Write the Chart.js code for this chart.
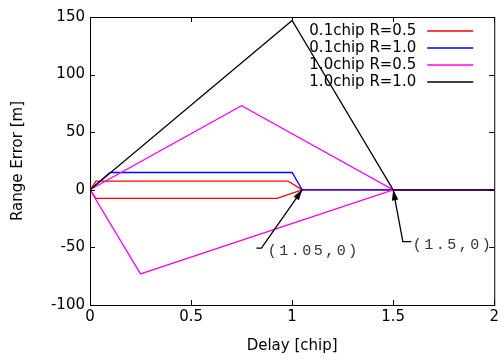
<!DOCTYPE html>
<html>
<head>
<meta charset="utf-8">
<script src="https://cdn.jsdelivr.net/npm/chart.js@4/dist/chart.umd.min.js"></script>
<style>
  html, body { margin: 0; padding: 0; background: #fff; }
  #wrap { width: 502px; height: 360px; }
</style>
</head>
<body>
<div id="wrap"><canvas id="c" width="502" height="360"></canvas></div>
<script>
// series names and colours
const seriesNames = ['0.1chip R=0.5', '0.1chip R=1.0', '1.0chip R=0.5', '1.0chip R=1.0'];
const seriesColors = ['#ff0000', '#0000ff', '#ff00ff', '#000000'];

// envelope of each series (delay [chip], error [m])
const redX = [2, 1.05, 0.98, 0.03, 0, 0.03, 0.925, 1.05];
const redY = [0, 0, 7.5, 7.5, 0, -7.5, -7.5, 0];
const blueX = [2, 1.05, 1.0, 0.1, 0];
const blueY = [0, 0, 15, 15, 0];
const magentaX = [2, 1.5, 0.75, 0, 0.25, 1.5];
const magentaY = [0, 0, 73, 0, -73, 0];
const blackX = [0, 1.0, 1.5, 2];
const blackY = [0, 147, 0, 0];

// axis ticks
const xTicks = [0, 0.5, 1, 1.5, 2];
const yTicks = [-100, -50, 0, 50, 100, 150];

// arrow labels: text, elbow start, arrow start, arrow tip, text anchor
const noteTexts = ['(1.05,0)', '(1.5,0)'];
const noteElbow = [[0.823, -50.6], [1.59, -45]];
const noteFrom = [[0.848, -50.6], [1.548, -45]];
const noteTip = [[1.05, 0], [1.5, 0]];
const noteAt = [[0.88, -53], [1.597, -48]];

const FONT = 'DejaVu Sans';

function pts(xs, ys) { return xs.map((x, i) => ({ x: x, y: ys[i] })); }
const allX = [redX, blueX, magentaX, blackX];
const allY = [redY, blueY, magentaY, blackY];

const datasets = seriesNames.map((name, i) => ({
  label: name,
  data: pts(allX[i], allY[i]),
  borderColor: seriesColors[i],
  backgroundColor: seriesColors[i],
  borderWidth: 1.3,
  borderJoinStyle: 'miter',
  pointRadius: 0,
  showLine: true,
  fill: false,
  tension: 0,
  order: seriesNames.length - 1 - i   // later series drawn on top, like gnuplot
}));

// frame, inward ticks, key and arrows, gnuplot style
const gnuplotDecor = {
  id: 'gnuplotDecor',
  afterDatasetsDraw(chart) {
    const { ctx, chartArea: a, scales } = chart;
    const sx = scales.x, sy = scales.y;
    ctx.save();
    ctx.strokeStyle = '#000';
    ctx.lineWidth = 1;
    ctx.strokeRect(a.left + 0.5, a.top + 0.5, a.right - a.left, a.bottom - a.top);

    const tl = 5;
    ctx.beginPath();
    xTicks.forEach(v => {
      const px = Math.round(sx.getPixelForValue(v)) + 0.5;
      ctx.moveTo(px, a.bottom); ctx.lineTo(px, a.bottom - tl);
      ctx.moveTo(px, a.top); ctx.lineTo(px, a.top + tl);
    });
    yTicks.forEach(v => {
      const py = Math.round(sy.getPixelForValue(v)) + 0.5;
      ctx.moveTo(a.left, py); ctx.lineTo(a.left + tl, py);
      ctx.moveTo(a.right, py); ctx.lineTo(a.right - tl, py);
    });
    ctx.stroke();

    // key (text then line sample, top right)
    ctx.font = '15px ' + FONT;
    ctx.textAlign = 'right';
    ctx.textBaseline = 'middle';
    chart.data.datasets.forEach((ds, i) => {
      const y = a.top + 14 + 17 * i;
      ctx.fillStyle = '#000';
      ctx.fillText(ds.label, a.right - 78, y);
      ctx.strokeStyle = ds.borderColor;
      ctx.lineWidth = 1.5;
      ctx.beginPath();
      ctx.moveTo(a.right - 67, Math.round(y));
      ctx.lineTo(a.right - 21, Math.round(y));
      ctx.stroke();
    });

    // arrows with labels
    noteTexts.forEach((t, i) => {
      const ex = sx.getPixelForValue(noteElbow[i][0]), ey = sy.getPixelForValue(noteElbow[i][1]);
      const fx = sx.getPixelForValue(noteFrom[i][0]), fy = sy.getPixelForValue(noteFrom[i][1]);
      const tx = sx.getPixelForValue(noteTip[i][0]), ty = sy.getPixelForValue(noteTip[i][1]);
      ctx.strokeStyle = '#000';
      ctx.fillStyle = '#000';
      ctx.lineWidth = 1.3;
      ctx.beginPath();
      ctx.moveTo(ex, ey); ctx.lineTo(fx, fy); ctx.lineTo(tx, ty);
      ctx.stroke();
      const ang = Math.atan2(ty - fy, tx - fx);
      const len = 11, half = 0.3;
      ctx.beginPath();
      ctx.moveTo(tx, ty);
      ctx.lineTo(tx - len * Math.cos(ang - half), ty - len * Math.sin(ang - half));
      ctx.lineTo(tx - len * Math.cos(ang + half), ty - len * Math.sin(ang + half));
      ctx.closePath();
      ctx.fill();

      ctx.fillStyle = '#333';
      ctx.font = '15px "Liberation Mono"';
      ctx.letterSpacing = '2.5px';
      ctx.textAlign = 'left';
      ctx.fillText(t, sx.getPixelForValue(noteAt[i][0]), sy.getPixelForValue(noteAt[i][1]));
      ctx.letterSpacing = '0px';
    });
    ctx.restore();
  }
};

new Chart(document.getElementById('c'), {
  type: 'scatter',
  data: { datasets: datasets },
  plugins: [gnuplotDecor],
  options: {
    responsive: false,
    animation: false,
    layout: { padding: { top: 17, right: 7, left: 0, bottom: 0 } },
    plugins: {
      legend: { display: false },
      tooltip: { enabled: false }
    },
    scales: {
      x: {
        type: 'linear', min: 0, max: 2,
        afterBuildTicks: s => { s.ticks = xTicks.map(v => ({ value: v })); },
        afterFit: s => { s.height = 55; },
        ticks: { color: '#000', font: { family: FONT, size: 15 }, padding: 3, maxRotation: 0,
                 callback: v => String(v) },
        grid: { display: false, drawTicks: false },
        border: { display: false },
        title: { display: true, text: 'Delay [chip]', color: '#000',
                 font: { family: FONT, size: 15 }, padding: { top: 5, bottom: 5 } }
      },
      y: {
        type: 'linear', min: -100, max: 150,
        afterBuildTicks: s => { s.ticks = yTicks.map(v => ({ value: v })); },
        afterFit: s => { s.width = 90; },
        ticks: { color: '#000', font: { family: FONT, size: 15 }, padding: 5,
                 callback: v => String(v) },
        grid: { display: false, drawTicks: false },
        border: { display: false },
        title: { display: true, text: 'Range Error [m]', color: '#000',
                 font: { family: FONT, size: 15 }, padding: { top: 9, bottom: 9 } }
      }
    }
  }
});
</script>
</body>
</html>
